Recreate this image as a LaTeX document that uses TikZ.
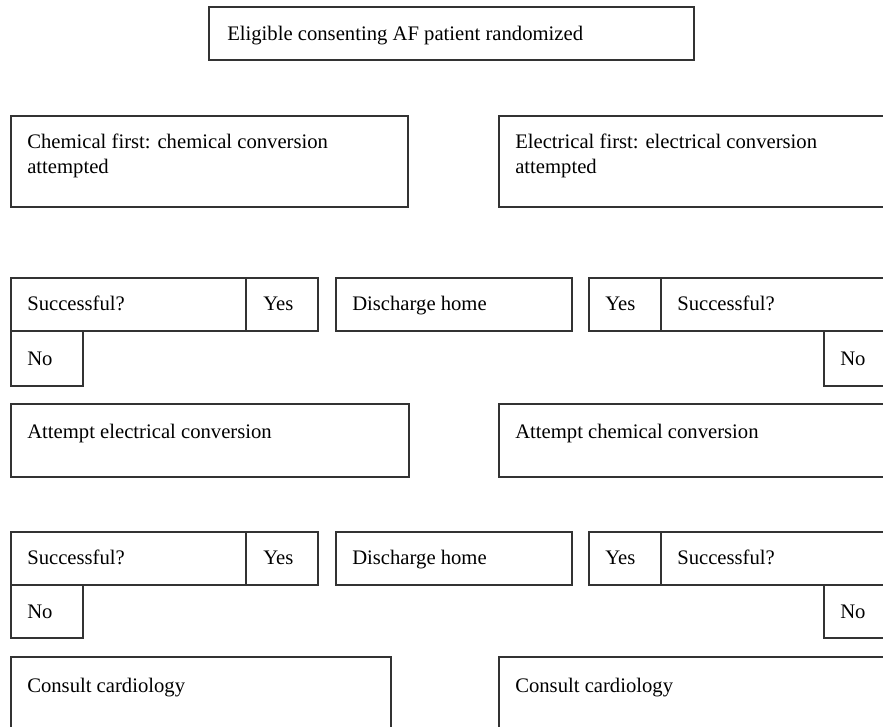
\documentclass[tikz,border=0pt]{standalone}
\usepackage{fontspec}
\setmainfont{Liberation Serif}
\begin{document}
\begin{tikzpicture}[x=0.75pt,y=-0.75pt]
\tikzset{
  every node/.append style={inner sep=0pt},
  boxline/.style={draw=black!80, line width=0.8pt},
  lbl/.style={anchor=base west, align=left, font=\fontsize{15.5pt}{18.75pt}\selectfont}
}
\clip (0,0) rectangle (883,727);
\fill [white] (0,0) rectangle (883,727);
% randomization
\draw [boxline] (209,7) rectangle (694,60);
\node [lbl] (rand) at (227,40.5) {Eligible consenting AF patient randomized};
% first attempt (base is the last line)
\draw [boxline] (11,116) rectangle (408,207);
\node [lbl] (chemfirst) at (27,174) {Chemical first: chemical conversion\\attempted};
\draw [boxline] (499,116) rectangle (900,207);
\node [lbl] (elecfirst) at (515,174) {Electrical first: electrical conversion\\attempted};
% first outcome row
\draw [boxline] (11,278) rectangle (246,331);
\node [lbl] (succA) at (27,311) {Successful?};
\draw [boxline] (246,278) rectangle (318,331);
\node [lbl] (yesA) at (263,311) {Yes};
\draw [boxline] (336,278) rectangle (572,331);
\node [lbl] (homeA) at (352,311) {Discharge home};
\draw [boxline] (589,278) rectangle (661,331);
\node [lbl] (yesB) at (605,311) {Yes};
\draw [boxline] (661,278) rectangle (900,331);
\node [lbl] (succB) at (677,311) {Successful?};
\draw [boxline] (11,331) rectangle (83,386);
\node [lbl] (noA) at (27,365.5) {No};
\draw [boxline] (824,331) rectangle (900,386);
\node [lbl] (noB) at (840,365.5) {No};
% second attempt
\draw [boxline] (11,404) rectangle (409,477);
\node [lbl] (attElec) at (27,439) {Attempt electrical conversion};
\draw [boxline] (499,404) rectangle (900,477);
\node [lbl] (attChem) at (515,439) {Attempt chemical conversion};
% second outcome row
\draw [boxline] (11,532) rectangle (246,585);
\node [lbl] (succC) at (27,565) {Successful?};
\draw [boxline] (246,532) rectangle (318,585);
\node [lbl] (yesC) at (263,565) {Yes};
\draw [boxline] (336,532) rectangle (572,585);
\node [lbl] (homeB) at (352,565) {Discharge home};
\draw [boxline] (589,532) rectangle (661,585);
\node [lbl] (yesD) at (605,565) {Yes};
\draw [boxline] (661,532) rectangle (900,585);
\node [lbl] (succD) at (677,565) {Successful?};
\draw [boxline] (11,585) rectangle (83,638);
\node [lbl] (noC) at (27,618.5) {No};
\draw [boxline] (824,585) rectangle (900,638);
\node [lbl] (noD) at (840,618.5) {No};
% cardiology
\draw [boxline] (11,657) rectangle (391,740);
\node [lbl] (cardA) at (27,692) {Consult cardiology};
\draw [boxline] (499,657) rectangle (900,740);
\node [lbl] (cardB) at (515,692) {Consult cardiology};
\end{tikzpicture}
\end{document}
